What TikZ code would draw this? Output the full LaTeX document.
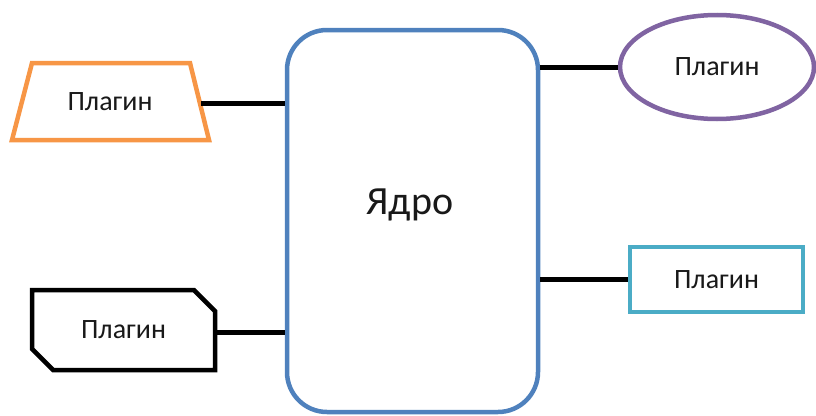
\documentclass[tikz,border=0pt]{standalone}
\usepackage{fontspec}
\setmainfont{Carlito}
\usetikzlibrary{shapes.geometric,shapes.misc}
\definecolor{coreblue}{HTML}{4F81BD}
\definecolor{plorange}{HTML}{F79646}
\definecolor{plpurple}{HTML}{8064A2}
\definecolor{plcyan}{HTML}{4BACC6}
\tikzset{
  shapeline/.style={line width=4.5pt, fill=white, inner sep=0pt},
  pltext/.style={font=\fontsize{28}{32}\selectfont, text=black!90},
  link/.style={line width=5pt, black},
}
\begin{document}
\begin{tikzpicture}[x=1pt,y=-1pt]
\useasboundingbox (0,0) rectangle (816,415);
% core
\node[shapeline, draw=coreblue, rounded corners=40pt, minimum width=251pt, minimum height=382pt] (core) at (412.5,221) {};
\node[font=\fontsize{40}{44}\selectfont, text=black!90] (coretext) at (410,205) {Ядро};
% plugin 1: trapezoid
\draw[shapeline, draw=plorange, line join=miter] (32,63) -- (190,63) -- (209,140) -- (12,140) -- cycle;
\node[pltext] (p1) at (110,102) {Плагин};
\coordinate (p1r) at (201,103);
% plugin 2: snipped rectangle
\node[shapeline, pltext, draw=black, chamfered rectangle, chamfered rectangle corners={north east,south west}, chamfered rectangle xsep=12pt, chamfered rectangle ysep=12pt, minimum width=183pt, minimum height=80pt] (p2) at (123.5,330) {Плагин};
\node[shapeline, pltext, draw=plpurple, ellipse, minimum width=194pt, minimum height=104pt] (p3) at (717,67) {Плагин};
\node[shapeline, pltext, draw=plcyan, rectangle, minimum width=173pt, minimum height=65pt] (p4) at (716.5,279.5) {Плагин};
% connectors
\draw[link] (p1r) -- (p1r -| core.west);
\draw[link] ([yshift=-2pt]p2.east) -- ([yshift=-2pt]p2.east -| core.west);
\draw[link] (p3.west) -- (p3.west -| core.east);
\draw[link] (p4.west) -- (p4.west -| core.east);
\end{tikzpicture}
\end{document}
